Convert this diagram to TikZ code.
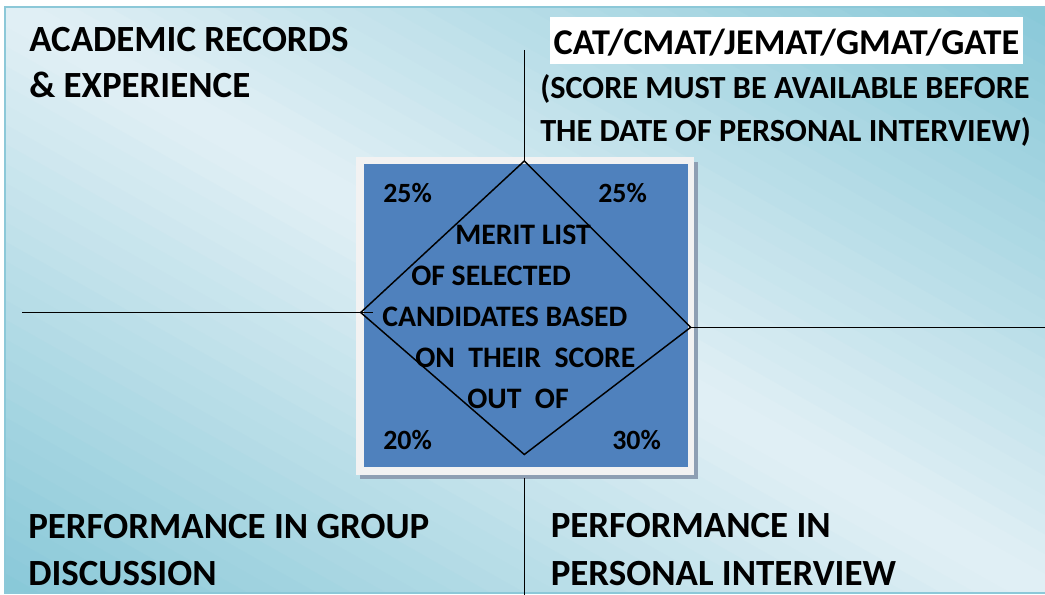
\documentclass[tikz,border=0pt]{standalone}
\usepackage{fontspec}
\setmainfont{Carlito}
\definecolor{bgdark}{HTML}{88C8D8}
\definecolor{bglight}{HTML}{E2F0F5}
\definecolor{bgborder}{HTML}{8CC8D8}
\definecolor{blueM}{HTML}{4F81BD}
\definecolor{framec}{HTML}{F2F2F2}
\definecolor{shadowc}{HTML}{8E9FB3}
\begin{document}
\begin{tikzpicture}[x=0.75pt,y=-0.75pt,
  conn/.style={draw=black,line width=1.1pt},
  bigtxt/.style={inner sep=0pt,align=left,anchor=base west,font=\fontsize{27.7}{35}\selectfont\bfseries},
  midtxt/.style={inner sep=0pt,align=left,anchor=base west,font=\fontsize{22.3}{30.75}\selectfont\bfseries},
  pcttxt/.style={inner sep=0pt,anchor=base west,font=\fontsize{20.9}{24}\selectfont\bfseries}]
\useasboundingbox (0,0) rectangle (1045,595);
\fill[white] (0,0) rectangle (1045,595);
% background panel: diagonal gradient built from strips
\begin{scope}
\clip (5,7) rectangle (1045,593);
\fill[bglight] (5,7) rectangle (1045,593);
\foreach \i in {0,...,29}{
  \pgfmathsetmacro{\pa}{\i/15}
  \pgfmathsetmacro{\pb}{(\i+1.15)/15}
  \pgfmathsetmacro{\f}{100*(\i+0.5)/30}
  \fill[bgdark!\f!bglight] ({525+\pa*260-624},{300-\pa*146.5-351.6}) -- ({525+\pa*260+624},{300-\pa*146.5+351.6}) -- ({525+\pb*260+624},{300-\pb*146.5+351.6}) -- ({525+\pb*260-624},{300-\pb*146.5-351.6}) -- cycle;
  \fill[bgdark!\f!bglight] ({525-\pa*260-624},{300+\pa*146.5-351.6}) -- ({525-\pa*260+624},{300+\pa*146.5+351.6}) -- ({525-\pb*260+624},{300+\pb*146.5+351.6}) -- ({525-\pb*260-624},{300+\pb*146.5-351.6}) -- cycle;
}
\end{scope}
\draw[bgborder, line width=1pt] (1045,7) -- (5,7) -- (5,593) -- (1045,593);
% connector end points
\coordinate (topEnd) at (524.3,50);
\coordinate (leftEnd) at (22,312.5);
\coordinate (leftStub) at (373,312.5);
\coordinate (rightEnd) at (1045,327.3);
\coordinate (botStart) at (524.3,478);
\coordinate (botEnd) at (524.3,595);
% central square with shadow and frame
\fill[shadowc] (360,162) rectangle (697.5,478.5);
\fill[framec] (356,157) rectangle (694,474.5);
\node (sq) [fill=blueM, inner sep=0pt, minimum width=243pt, minimum height=227.25pt] at (526,315.5) {};
% diamond
\coordinate (dT) at (524.3,161);
\coordinate (dL) at (360.7,312.5);
\coordinate (dR) at (690.7,327.3);
\coordinate (dB) at (524.3,454.5);
\draw[line width=1.1pt, line join=miter] (dT) -- (dR) -- (dB) -- (dL) -- cycle;
\draw[conn] (topEnd) -- (dT);
\draw[conn] (leftEnd) -- (leftStub);
\draw[conn] (dR) -- (rightEnd);
\draw[conn] (botStart) -- (botEnd);
% corner texts
\node[bigtxt, font=\fontsize{27.7}{34.5}\selectfont\bfseries] (acad) at (29,98) {ACADEMIC RECORDS\\\& EXPERIENCE};
\node[bigtxt, font=\fontsize{27.2}{34}\selectfont\bfseries, fill=white, inner xsep=2.6pt, text height=28.2pt, text depth=6.45pt] (cat) at (550,55) {CAT/CMAT/JEMAT/GMAT/GATE};
\node[bigtxt, font=\fontsize{24.2}{32.6}\selectfont\bfseries] (score) at (540,142) {(SCORE MUST BE AVAILABLE BEFORE\\THE DATE OF PERSONAL INTERVIEW)};
\node[bigtxt, font=\fontsize{27.7}{35.5}\selectfont\bfseries] (gd) at (28,585.7) {PERFORMANCE IN GROUP\\DISCUSSION};
\node[bigtxt, font=\fontsize{27.7}{35.5}\selectfont\bfseries] (pi) at (550.5,585) {PERFORMANCE IN\\PERSONAL INTERVIEW};
% centre texts
\node[midtxt] (merit) at (382,408) {\hspace*{54.75pt}MERIT LIST\\\hspace*{21.75pt}OF SELECTED\\CANDIDATES BASED\\\hspace*{24.75pt}ON\ \ THEIR\ \ SCORE\\\hspace*{63.75pt}OUT\ \ OF};
\node[pcttxt] (p1) at (383,202.3) {25\%};
\node[pcttxt] (p2) at (598,202.3) {25\%};
\node[pcttxt] (p3) at (383,449.3) {20\%};
\node[pcttxt] (p4) at (612,449.3) {30\%};
\end{tikzpicture}
\end{document}
